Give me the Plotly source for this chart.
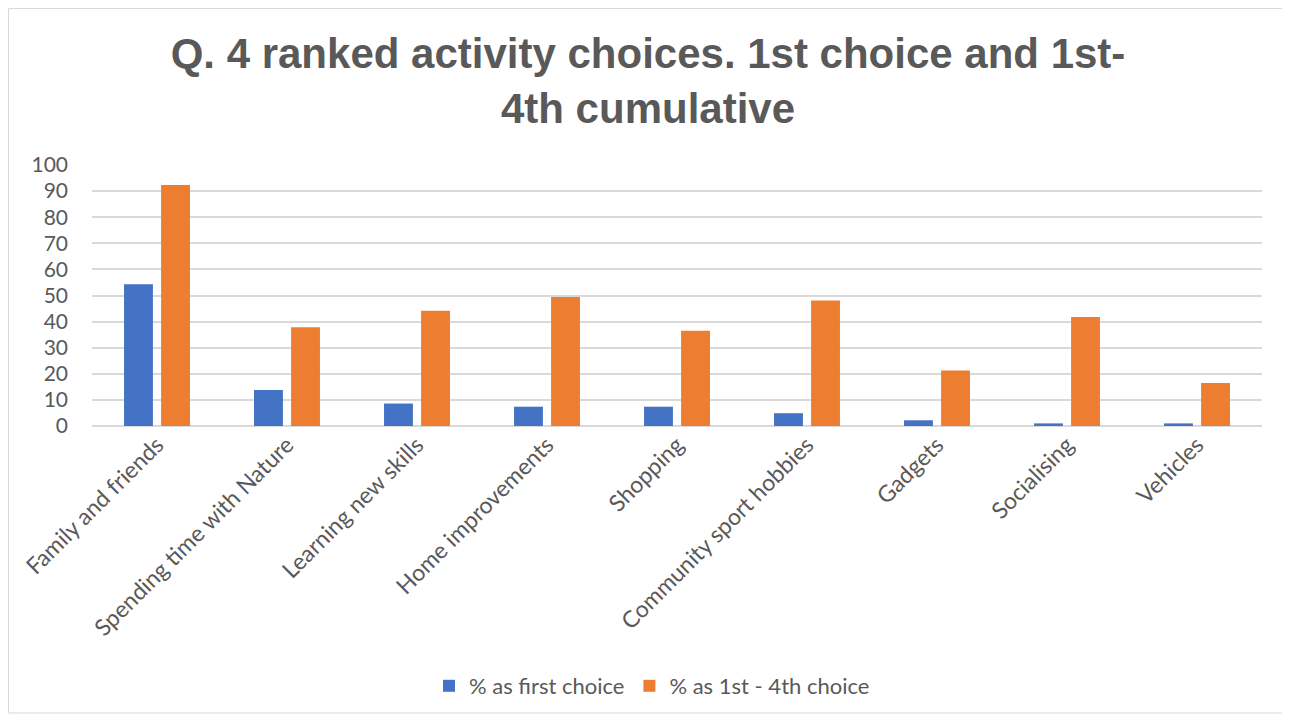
import plotly.graph_objects as go

categories = ["Family and friends", "Spending time with Nature", "Learning new skills",
              "Home improvements", "Shopping", "Community sport hobbies", "Gadgets",
              "Socialising", "Vehicles"]
first_choice = [54.3, 13.8, 8.6, 7.4, 7.4, 4.9, 2.2, 1.0, 1.0]
cumulative = [92.3, 37.8, 44.2, 49.4, 36.5, 48.1, 21.3, 41.8, 16.5]
y_ticks = list(range(0, 101, 10))

fig = go.Figure()
fig.add_trace(go.Bar(x=categories, y=first_choice, name="% as first choice",
                     marker=dict(color="#4472C4", line=dict(width=0))))
fig.add_trace(go.Bar(x=categories, y=cumulative, name="% as 1st - 4th choice",
                     marker=dict(color="#ED7D31", line=dict(width=0))))

W, H = 1276, 706
OFF = 8  # page body margin
L, R, T, B = 92 - OFF, W - (1262 - OFF), 165 - OFF, H - (426 - OFF)
pw, ph = W - L - R, H - T - B

def px_x(p):
    return (p - OFF - L) / pw

def px_y(p):
    return (H - B - (p - OFF)) / ph

fig.update_layout(
    width=W, height=H,
    margin=dict(l=L, r=R, t=T, b=B, autoexpand=False),
    paper_bgcolor="white", plot_bgcolor="white",
    barmode="group", bargap=0.43, bargroupgap=0.22,
    title=dict(text="Q. 4 ranked activity choices. 1st choice and 1st-<br>4th cumulative",
               x=(648 - OFF) / W, xref="container", xanchor="center",
               y=1 - (68 - OFF) / H, yref="container", yanchor="middle",
               font=dict(family="Liberation Sans, Arial", size=42, color="#595959", weight="bold")),
    font=dict(family="Lato, Open Sans, sans-serif", color="#595959"),
    xaxis=dict(tickangle=-45, tickfont=dict(size=23, color="#595959"),
               showgrid=False, showline=False, ticks="", automargin=False),
    yaxis=dict(range=[0, 100], tickvals=y_ticks, showgrid=True, gridcolor="#d9d9d9",
               gridwidth=1.5, zeroline=True, zerolinecolor="#d9d9d9", zerolinewidth=1.5,
               tickfont=dict(size=21, color="#595959"), ticks="", showline=False,
               ticklabelstandoff=23, automargin=False),
    legend=dict(orientation="h", x=px_x(652), xref="paper", xanchor="center",
                y=px_y(686), yref="paper", yanchor="middle",
                font=dict(size=22, color="#595959"), traceorder="normal"),
    shapes=[dict(type="rect", xref="paper", yref="paper",
                 x0=px_x(OFF + 0.5), x1=px_x(OFF + W - 1), y0=px_y(OFF + H - 1), y1=px_y(OFF + 0.5),
                 line=dict(color="#d9d9d9", width=1), layer="below")],
)

fig.write_html("out.html")
